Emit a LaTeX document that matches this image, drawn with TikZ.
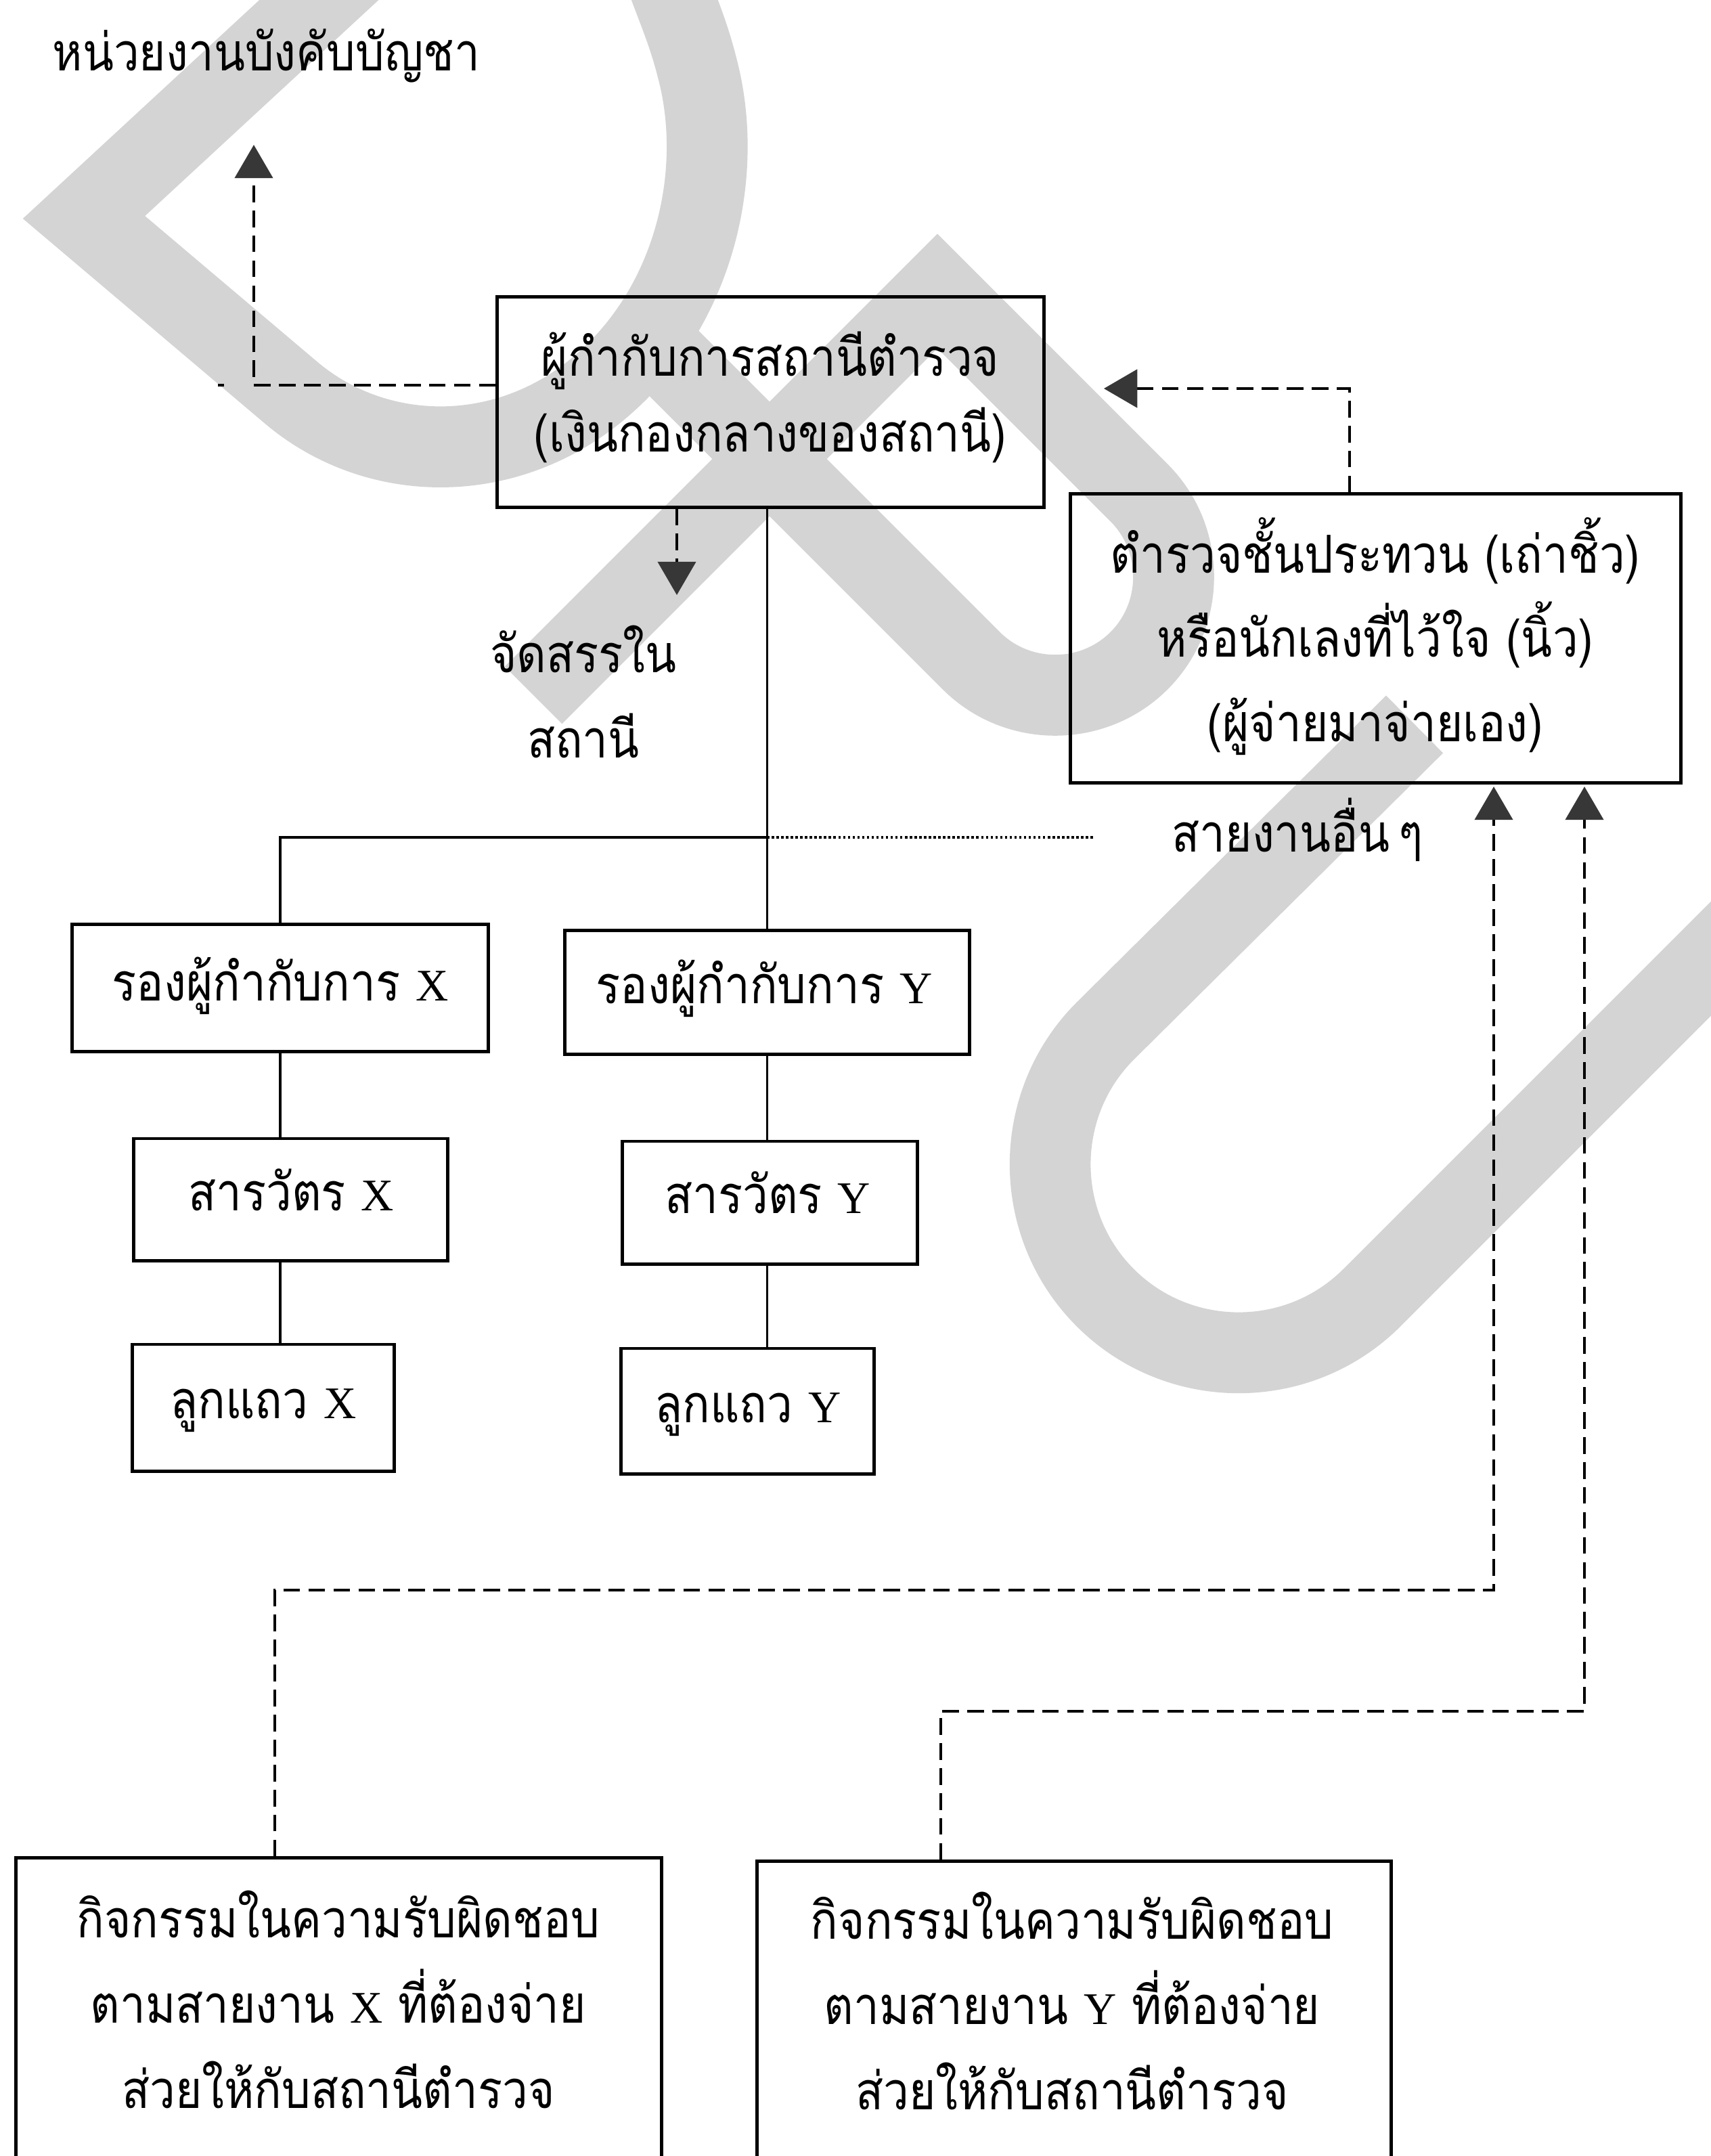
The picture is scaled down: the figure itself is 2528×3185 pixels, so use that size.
\documentclass[tikz,border=0pt]{standalone}
\usepackage{fontspec}
\setmainfont{Liberation Serif}
\newfontfamily\thaifont[Script=Thai, FakeStretch=0.87]{Loma}
\newfontfamily\latinfont{Liberation Serif}
\usetikzlibrary{arrows.meta}
\definecolor{wmgray}{RGB}{212,212,212}
\definecolor{tipgray}{RGB}{55,55,55}
\newcommand{\lat}[1]{{\latinfont\fontsize{19}{19}\selectfont #1}}
\newcommand{\tsize}[1]{\thaifont\fontsize{22}{#1}\selectfont}

\tikzset{
  boxshape/.style={draw=black, line width=1.4pt, rectangle, inner sep=0pt},
  lbl/.style={font=\tsize{32}, inner sep=0pt, anchor=base, align=center},
  solidlink/.style={line width=0.9pt},
  dashlink/.style={line width=1.1pt, dash pattern=on 7pt off 3.5pt},
  dotlink/.style={line width=1pt, dash pattern=on 1pt off 1pt},
  tip/.style={-{Triangle[length=14pt,width=16pt,color=tipgray]}},
  wmark/.style={draw=wmgray, line width=34pt, line join=miter, line cap=butt},
}

\begin{document}
\begin{tikzpicture}[x=0.01cm, y=-0.01cm]
\useasboundingbox (0,0) rectangle (2528,3185);
\fill[white] (0,0) rectangle (2528,3185);

% large grey background strokes
\begin{scope}
\clip (0,0) rectangle (2528,3185);
\draw[wmark] (520,-45) -- (124,321) -- (430,580)
  .. controls (560,690) and (760,690) .. (900,560)
  .. controls (1030,440) and (1070,250) .. (1030,100)
  .. controls (1015,40) and (995,0) .. (975,-60);
\draw[wmark] (788,1027) -- (1385,430) -- (1683,728)
  .. controls (1751,796) and (1751,908) .. (1683,976)
  .. controls (1615,1044) and (1503,1044) .. (1435,976) -- (960,501);
\draw[wmark] (2090,1070) -- (1633,1523)
  .. controls (1524.5,1631.5) and (1524.5,1808.5) .. (1633,1917)
  .. controls (1741.5,2025.5) and (1918.5,2025.5) .. (2027,1917) -- (2600,1344);
\end{scope}

% boxes
\node[boxshape, minimum width=8.07cm, minimum height=3.10cm] (b1) at (1138.5,594) {};
\node[boxshape, minimum width=9.01cm, minimum height=4.26cm] (b2) at (2032.5,943) {};
\node[boxshape, minimum width=6.14cm, minimum height=1.87cm] (bX) at (414,1459.5) {};
\node[boxshape, minimum width=5.97cm, minimum height=1.82cm] (bY) at (1133.5,1466) {};
\node[boxshape, minimum width=4.63cm, minimum height=1.80cm] (sX) at (429.5,1772) {};
\node[boxshape, minimum width=4.35cm, minimum height=1.81cm] (sY) at (1137.5,1776.5) {};
\node[boxshape, minimum width=3.86cm, minimum height=1.87cm] (lX) at (389,2079.5) {};
\node[boxshape, minimum width=3.73cm, minimum height=1.85cm] (lY) at (1104.5,2084.5) {};
\node[boxshape, minimum width=9.53cm, minimum height=5.15cm] (aBox) at (500.5,3002.5) {};
\node[boxshape, minimum width=9.36cm, minimum height=5.10cm] (bBox) at (1587,3005) {};

% texts (multi-line nodes are placed by the baseline of their last line)
\node[lbl, anchor=base west] (title) at (77,105) {หน่วยงานบังคับบัญชา};
\node[lbl, font=\tsize{31.6}] (b1t) at (1138,667) {ผู้กำกับการสถานีตำรวจ\\(เงินกองกลางของสถานี)};
\node[lbl, font=\tsize{35.8}] (alloc) at (862,1119) {จัดสรรใน\\สถานี};
\node[lbl, font=\tsize{35.3}] (b2t) at (2032,1095) {ตำรวจชั้นประทวน (เถ่าชิ้ว)\\หรือนักเลงที่ไว้ใจ (นิ้ว)\\(ผู้จ่ายมาจ่ายเอง)};
\node[lbl, anchor=base west] (other) at (1731,1258) {สายงานอื่น\,ๆ};
\node[lbl] (bXt) at (414,1478) {รองผู้กำกับการ \lat{X}};
\node[lbl] (bYt) at (1129,1482) {รองผู้กำกับการ \lat{Y}};
\node[lbl] (sXt) at (430,1788) {สารวัตร \lat{X}};
\node[lbl] (sYt) at (1134,1792) {สารวัตร \lat{Y}};
\node[lbl] (lXt) at (389,2095) {ลูกแถว \lat{X}};
\node[lbl] (lYt) at (1105,2101) {ลูกแถว \lat{Y}};
\node[lbl, font=\tsize{35.7}] (aBoxt) at (500,3114) {กิจกรรมในความรับผิดชอบ\\ตามสายงาน \lat{X} ที่ต้องจ่าย\\ส่วยให้กับสถานีตำรวจ};
\node[lbl, font=\tsize{35.7}] (bBoxt) at (1584,3116) {กิจกรรมในความรับผิดชอบ\\ตามสายงาน \lat{Y} ที่ต้องจ่าย\\ส่วยให้กับสถานีตำรวจ};

% connector end points
\coordinate (j1) at (375,569);
\coordinate (t1) at (375,214);
\coordinate (j2) at (1994,574);
\coordinate (t2) at (1631,574);
\coordinate (t3) at (1000,879);
\coordinate (bar) at (1133,1237);
\coordinate (dotend) at (1618,1237);
\coordinate (ta) at (2207,1162);
\coordinate (tb) at (2341,1162);
\coordinate (ka) at (406,2349);
\coordinate (kb) at (1390,2528);

% solid hierarchy lines
\draw[solidlink] (b1.south -| bY.north) -- (bY.north);
\draw[solidlink] (bX.north) -- (bX.north |- bar) -- (bar);
\draw[dotlink] (bar) -- (dotend);
\draw[solidlink] (bX.south) -- (bX.south |- sX.north);
\draw[solidlink] (bX.south |- sX.south) -- (bX.south |- lX.north);
\draw[solidlink] (bY.south) -- (bY.south |- sY.north);
\draw[solidlink] (bY.south |- sY.south) -- (bY.south |- lY.north);

% dashed money flows
\draw[dashlink, tip] (b1.west |- j1) -- (j1) -- (t1);
\draw[line width=1.1pt] (322,569) -- (331,569);
\draw[dashlink, tip] (b2.north -| j2) -- (j2) -- (t2);
\draw[dashlink, tip] (b1.south -| t3) -- (t3);
\draw[dashlink, tip] (aBox.north -| ka) -- (ka) -- (ka -| ta) -- (ta);
\draw[dashlink, tip] (bBox.north -| kb) -- (kb) -- (kb -| tb) -- (tb);
\end{tikzpicture}
\end{document}
